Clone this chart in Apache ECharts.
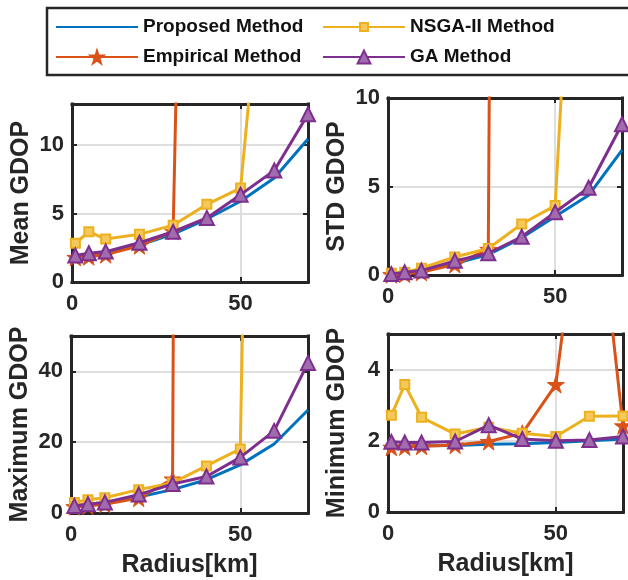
<!DOCTYPE html>
<html>
<head>
<meta charset="utf-8">
<script src="https://cdn.jsdelivr.net/npm/echarts@6/dist/echarts.min.js"></script>
<style>
  html, body { margin: 0; padding: 0; background: #fff; }
  #chart { width: 628px; height: 580px; }
</style>
</head>
<body>
<div id="chart"></div>
<script>
// Radius of the deployment area (km)
const radius = [1, 5, 10, 20, 30, 40, 50, 60, 70];

const methodNames = ['Proposed Method', 'Empirical Method', 'NSGA-II Method', 'GA Method'];

// Mean GDOP
const proposedMean  = [1.85, 1.95, 2.1, 2.7, 3.5, 4.6, 5.9, 7.6, 10.45];
const empiricalMean = [1.8, 1.85, 2.0, 2.65, 3.7, 120, 240, 360, 480];
const nsgaMean      = [2.83, 3.67, 3.14, 3.48, 4.15, 5.67, 6.86, 33, 60];
const gaMean        = [1.93, 2.1, 2.22, 2.87, 3.67, 4.68, 6.38, 8.14, 12.25];

// STD GDOP
const proposedStd  = [0.05, 0.1, 0.25, 0.65, 1.15, 2.1, 3.3, 4.5, 7.05];
const empiricalStd = [0.02, 0.05, 0.15, 0.6, 1.45, 300, 500, 700, 900];
const nsgaStd      = [0.1, 0.15, 0.38, 1.02, 1.5, 2.88, 3.92, 38, 70];
const gaStd        = [0.05, 0.15, 0.25, 0.8, 1.23, 2.16, 3.55, 4.93, 8.52];

// Maximum GDOP
const proposedMax  = [2.0, 2.3, 2.8, 4.5, 6.6, 9.4, 13.6, 19.5, 29.1];
const empiricalMax = [1.8, 2.0, 2.5, 4.2, 9.6, 2000, 3000, 4000, 5000];
const nsgaMax      = [3.0, 3.75, 4.3, 6.6, 8.5, 13.3, 18.1, 550, 900];
const gaMax        = [2.0, 2.5, 3.0, 5.2, 8.2, 10.3, 15.7, 23.2, 42.4];

// Minimum GDOP
const proposedMin  = [1.85, 1.85, 1.86, 1.87, 1.9, 1.92, 1.95, 2.0, 2.05];
const empiricalMin = [1.82, 1.83, 1.85, 1.88, 1.98, 2.21, 3.58, 11, 2.42];
const nsgaMin      = [2.72, 3.58, 2.66, 2.19, 2.38, 2.21, 2.12, 2.69, 2.7];
const gaMin        = [1.97, 1.95, 1.95, 1.98, 2.44, 2.05, 2.0, 2.02, 2.12];

const panelNames = ['Mean GDOP', 'STD GDOP', 'Maximum GDOP', 'Minimum GDOP'];
const panelSeries = [
  [proposedMean, empiricalMean, nsgaMean, gaMean],
  [proposedStd, empiricalStd, nsgaStd, gaStd],
  [proposedMax, empiricalMax, nsgaMax, gaMax],
  [proposedMin, empiricalMin, nsgaMin, gaMin]
];
const yMax  = [13, 10, 50, 5];
const yStep = [5, 5, 20, 2];
const xName = 'Radius[km]';

const FONT = "'Liberation Sans', Arial, Helvetica, sans-serif";
const INK = '#262626';
const GRIDLINE = '#dedede';

const grids = [
  { left: 72,  top: 104, width: 236, height: 178 },
  { left: 388, top: 98,  width: 234, height: 177 },
  { left: 71,  top: 336, width: 237, height: 177 },
  { left: 388, top: 334, width: 235, height: 178 }
];

const starPath = 'path://M50,0 L61.2,34.5 L97.6,34.5 L68.2,55.9 L79.4,90.5 L50,69.1 L20.6,90.5 L31.8,55.9 L2.4,34.5 L38.8,34.5 Z';

const methodStyles = [
  { color: '#0072BD', symbol: 'none', size: 0, fill: '#0072BD' },
  { color: '#D95319', symbol: starPath, size: 17, fill: '#D95319' },
  { color: '#EDB120', symbol: 'rect', size: 9, fill: '#F4C95A' },
  { color: '#7E2F8E', symbol: 'triangle', size: 14, fill: '#A06CAE' }
];

const xAxes = [];
const yAxes = [];
const series = [];

grids.forEach((g, gi) => {
  const bottomRow = gi >= 2;
  // main bottom / left axes
  xAxes.push({
    gridIndex: gi, type: 'value', min: 0, max: 70, interval: 50, position: 'bottom',
    name: bottomRow ? xName : '', nameLocation: 'middle', nameGap: 40,
    nameTextStyle: { fontFamily: FONT, fontWeight: 'bold', fontSize: 25, color: INK },
    axisLine: { show: true, onZero: false, lineStyle: { color: INK, width: 3, cap: 'square' } },
    axisTick: { show: true, inside: true, length: 5, lineStyle: { color: INK, width: 2 } },
    axisLabel: { show: true, margin: 11, showMaxLabel: false, fontFamily: FONT, fontWeight: 'bold', fontSize: 22, color: INK },
    splitLine: { show: true, showMinLine: false, showMaxLine: false, lineStyle: { color: GRIDLINE, width: 2 } }
  });
  yAxes.push({
    gridIndex: gi, type: 'value', min: 0, max: yMax[gi], interval: yStep[gi], position: 'left',
    name: panelNames[gi], nameLocation: 'middle', nameGap: 38,
    nameTextStyle: { fontFamily: FONT, fontWeight: 'bold', fontSize: 25, color: INK },
    axisLine: { show: true, onZero: false, lineStyle: { color: INK, width: 3, cap: 'square' } },
    axisTick: { show: true, inside: true, length: 5, lineStyle: { color: INK, width: 2 } },
    axisLabel: { show: true, margin: 8, showMaxLabel: yMax[gi] % yStep[gi] === 0, fontFamily: FONT, fontWeight: 'bold', fontSize: 22, color: INK },
    splitLine: { show: true, showMinLine: false, showMaxLine: false, lineStyle: { color: GRIDLINE, width: 2 } }
  });
});

// mirrored top / right axes closing each box
grids.forEach((g, gi) => {
  xAxes.push({
    gridIndex: gi, type: 'value', min: 0, max: 70, interval: 50, position: 'top',
    axisLine: { show: true, onZero: false, lineStyle: { color: INK, width: 3, cap: 'square' } },
    axisTick: { show: true, inside: true, length: 5, lineStyle: { color: INK, width: 2 } },
    axisLabel: { show: false }, splitLine: { show: false }
  });
  yAxes.push({
    gridIndex: gi, type: 'value', min: 0, max: yMax[gi], interval: yStep[gi], position: 'right',
    axisLine: { show: true, onZero: false, lineStyle: { color: INK, width: 3, cap: 'square' } },
    axisTick: { show: true, inside: true, length: 5, lineStyle: { color: INK, width: 2 } },
    axisLabel: { show: false }, splitLine: { show: false }
  });
});

panelSeries.forEach((set, gi) => {
  set.forEach((vals, mi) => {
    const st = methodStyles[mi];
    series.push({
      name: methodNames[mi],
      type: 'line',
      xAxisIndex: gi,
      yAxisIndex: gi,
      data: radius.map((r, i) => [r, vals[i]]),
      clip: true,
      symbol: st.symbol,
      symbolSize: st.size,
      showSymbol: st.symbol !== 'none',
      lineStyle: { color: st.color, width: 3 },
      itemStyle: { color: st.fill, borderColor: st.color, borderWidth: mi === 1 ? 1 : 2 },
      emphasis: { disabled: true },
      z: 2 + mi
    });
  });
});

const legendText = { fontFamily: FONT, fontWeight: 'bold', fontSize: 19, color: '#111', lineHeight: 20 };
const legendSlots = [
  { name: 'Proposed Method',  left: 55,  top: 17, h: 14, hideMark: true },
  { name: 'Empirical Method', left: 55,  top: 47, h: 16 },
  { name: 'NSGA-II Method',   left: 322, top: 17, h: 10 },
  { name: 'GA Method',        left: 322, top: 47, h: 16 }
];
const legends = legendSlots.map(s => {
  const lg = {
    data: [s.name], left: s.left, top: s.top, padding: 0,
    itemWidth: 82, itemHeight: s.h, selectedMode: false,
    textStyle: legendText
  };
  if (s.hideMark) {
    lg.itemStyle = { color: 'rgba(0,0,0,0)', borderColor: 'rgba(0,0,0,0)', borderWidth: 0, opacity: 0 };
  }
  return lg;
});

const chart = echarts.init(document.getElementById('chart'), null, { renderer: 'canvas' });
chart.setOption({
  animation: false,
  backgroundColor: '#ffffff',
  grid: grids.map(g => Object.assign({ containLabel: false }, g)),
  xAxis: xAxes,
  yAxis: yAxes,
  legend: legends,
  graphic: [{
    type: 'rect',
    shape: { x: 47, y: 8, width: 640, height: 67 },
    style: { fill: 'none', stroke: INK, lineWidth: 2.5 },
    z: 10
  }],
  series: series
});
</script>
</body>
</html>
